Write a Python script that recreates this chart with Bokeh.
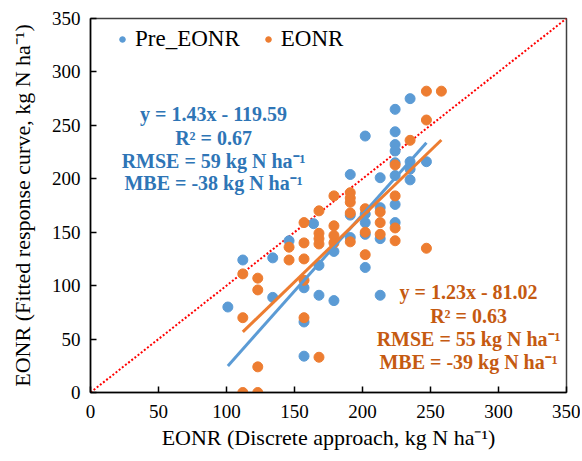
from bokeh.plotting import figure
from bokeh.models import Label, Legend, LegendItem, Range1d, FixedTicker
from bokeh.embed import file_html
from bokeh.resources import INLINE

# ---- data ----
pre_x = [101, 112, 134, 134, 146, 157, 157, 157, 164, 168, 168, 179, 179,
         191, 191, 191, 202, 202, 202, 202, 202, 213, 213, 213, 213,
         224, 224, 224, 224, 224, 224, 224, 224, 235, 235, 235, 235, 247]
pre_y = [80, 124, 126, 89, 142, 98, 66, 34, 158, 119, 91, 132, 86,
         204, 166, 145, 240, 167, 159, 148, 117, 201, 173, 144, 91,
         265, 244, 232, 226, 215, 203, 176, 159, 275, 216, 209, 199, 216]

eonr_x = [112, 112, 112, 123, 123, 123, 123, 146, 146, 157, 157, 157, 157, 157,
          168, 168, 168, 168, 168, 179, 179, 179, 179, 191, 191, 191, 191, 191,
          202, 202, 202, 213, 213, 213, 224, 224, 224, 224, 235, 247, 247, 247, 258]
eonr_y = [111, 70, 0, 107, 96, 24, 0, 136, 124, 159, 140, 125, 105, 70,
          170, 149, 144, 139, 33, 184, 156, 147, 140, 187, 182, 178, 168, 141,
          172, 150, 129, 169, 159, 148, 184, 154, 142, 213, 236, 282, 255, 135, 282]

pre_fit = (1.43, -119.59)
eonr_fit = (1.23, -81.02)
pre_fit_x = [101, 247]
eonr_fit_x = [112, 258]
one_to_one = [0, 350]
ticks = [0, 50, 100, 150, 200, 250, 300, 350]

pre_text = ["y = 1.43x - 119.59", "R² = 0.67", "RMSE = 59 kg N ha⁻¹", "MBE = -38 kg N ha⁻¹"]
eonr_text = ["y = 1.23x - 81.02", "R² = 0.63", "RMSE = 55 kg N ha⁻¹", "MBE = -39 kg N ha⁻¹"]

BLUE = "#5B9BD5"
ORANGE = "#ED7D31"
BLUE_T = "#2E75B6"
ORANGE_T = "#C55A11"
FONT = "Liberation Serif"

p = figure(width=580, height=455, output_backend="svg", toolbar_location=None,
           x_range=Range1d(0, 350), y_range=Range1d(0, 350),
           min_border_left=90, min_border_right=14, min_border_top=18, min_border_bottom=63)
p.xgrid.visible = False
p.ygrid.visible = False
p.outline_line_color = "#404040"
p.outline_line_width = 1.5
p.background_fill_color = "white"
p.border_fill_color = "white"

for ax in (p.xaxis[0], p.yaxis[0]):
    ax.ticker = FixedTicker(ticks=ticks)
    ax.minor_tick_line_color = None
    ax.major_tick_in = 6
    ax.major_tick_out = 0
    ax.major_tick_line_color = "black"
    ax.major_tick_line_width = 1.5
    ax.axis_line_color = "black"
    ax.axis_line_width = 1.5
    ax.major_label_text_font = FONT
    ax.major_label_text_font_size = "19px"
    ax.major_label_text_color = "black"
    ax.axis_label_text_font = FONT
    ax.axis_label_text_font_size = "22px"
    ax.axis_label_text_font_style = "normal"
    ax.axis_label_text_color = "black"

p.xaxis.axis_label = "EONR (Discrete approach, kg N ha⁻¹)"
p.yaxis.axis_label = "EONR (Fitted response curve, kg N ha⁻¹)"
p.xaxis.major_label_standoff = 12
p.yaxis.major_label_standoff = 10
p.xaxis.axis_label_standoff = 4
p.yaxis.axis_label_standoff = 14

# 1:1 line
p.line(one_to_one, one_to_one, line_color="#FF0000", line_width=2, line_dash="2 2")

r_pre = p.scatter(pre_x, pre_y, size=10, fill_color=BLUE, line_color=BLUE)
r_eonr = p.scatter(eonr_x, eonr_y, size=10, fill_color=ORANGE, line_color=ORANGE)

p.line(pre_fit_x, [pre_fit[0] * x + pre_fit[1] for x in pre_fit_x], line_color=BLUE, line_width=3)
p.line(eonr_fit_x, [eonr_fit[0] * x + eonr_fit[1] for x in eonr_fit_x], line_color=ORANGE, line_width=3)

# legend proxies (smaller dots)
lg_pre = p.scatter([-100], [-100], size=7, fill_color=BLUE, line_color=BLUE)
lg_eonr = p.scatter([-100], [-100], size=7, fill_color=ORANGE, line_color=ORANGE)
legend = Legend(items=[LegendItem(label="Pre_EONR", renderers=[lg_pre]),
                       LegendItem(label="EONR", renderers=[lg_eonr])],
                orientation="horizontal", location=(25, 340))
legend.label_text_font = FONT
legend.label_text_font_size = "23px"
legend.label_text_color = "black"
legend.border_line_color = None
legend.background_fill_alpha = 0
legend.padding = 0
legend.margin = 0
legend.glyph_width = 14
legend.glyph_height = 20
legend.label_standoff = 6
legend.spacing = 21
p.add_layout(legend)

# annotations
pre_pos_x = 90.5
pre_pos_y = [261, 238.6, 217, 195.6]
eonr_pos_x = 278
eonr_pos_y = [93.6, 72, 50.5, 28.4]
for t, yy in zip(pre_text, pre_pos_y):
    p.add_layout(Label(x=pre_pos_x, y=yy, text=t, text_align="center", text_baseline="middle",
                       text_font=FONT, text_font_size="20px", text_font_style="bold",
                       text_color=BLUE_T))
for t, yy in zip(eonr_text, eonr_pos_y):
    p.add_layout(Label(x=eonr_pos_x, y=yy, text=t, text_align="center", text_baseline="middle",
                       text_font=FONT, text_font_size="20px", text_font_style="bold",
                       text_color=ORANGE_T))

open("out.html", "w").write(file_html(p, INLINE))
